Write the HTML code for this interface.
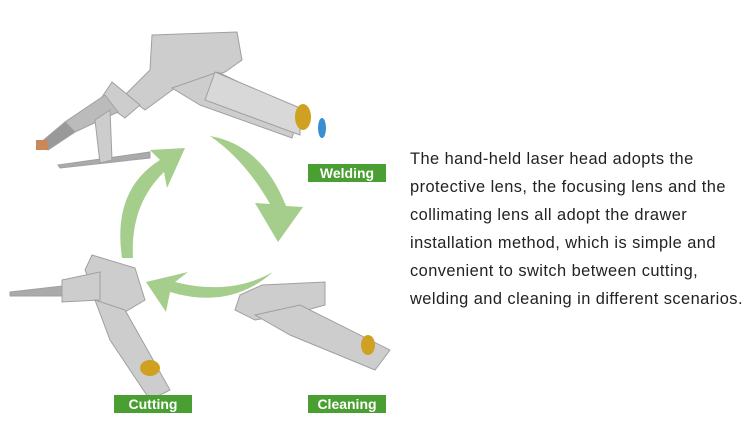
<!DOCTYPE html>
<html><head><style>
body{margin:0;width:750px;height:440px;background:#fff;position:relative;overflow:hidden;font-family:"Liberation Sans",sans-serif}
.lab{position:absolute;background:#4a9f32;color:#fff;font-weight:bold;font-size:14px;text-align:center;line-height:18px;width:78px;height:18px}
.txt{position:absolute;left:410px;top:145px;font-size:16.4px;letter-spacing:0.45px;line-height:28px;color:#222;white-space:nowrap}
</style></head><body>
<svg width="750" height="440" style="position:absolute;left:0;top:0">
<g fill="#a5cd8b">
<path d="M210,136 Q262,145 286,206 L303,207 L278,242 L255,203 L270,204 Q245,160 210,136Z"/>
<path d="M122,258 Q112,190 160,160 L150,150 L185,148 L167,188 L164,172 Q130,205 133,258Z"/>
<path d="M273,272 Q230,310 170,292 L166,312 L146,282 L188,272 L175,282 Q230,296 273,272Z"/>
</g>
<g fill="#cdcdcd" stroke="#a0a0a0" stroke-width="1">
<path d="M152,35 L237,32 L242,60 L225,72 L175,88 L145,110 L125,95 L150,70Z"/>
<path d="M172,88 L218,72 L300,112 L292,138 L200,105Z"/>
<path d="M215,72 L300,108 L300,135 L205,100Z" fill="#d8d8d8"/>
<path d="M112,82 L140,105 L125,118 L100,100Z"/>
<path d="M105,95 L118,112 L75,132 L65,122Z" fill="#bbb"/>
<path d="M65,122 L75,132 L48,150 L40,143Z" fill="#999"/>
<path d="M58,165 L150,152 L150,158 L60,168Z" fill="#aaa"/>
<path d="M95,120 L110,110 L112,160 L100,163Z"/>
<path d="M92,255 L135,268 L145,300 L120,315 L100,305 L85,270Z"/>
<path d="M62,280 L100,272 L100,300 L62,302Z"/>
<path d="M95,300 L125,310 L170,390 L150,400 L110,340Z"/>
<path d="M10,292 L62,286 L62,296 L10,296Z" fill="#aaa"/>
<path d="M262,285 L325,282 L325,305 L300,312 L255,320 L235,310 L240,295Z"/>
<path d="M255,315 L300,305 L390,350 L375,370 L290,335Z"/>
</g>
<g fill="#d0a020">
<ellipse cx="303" cy="117" rx="8" ry="13"/>
<ellipse cx="150" cy="368" rx="10" ry="8"/>
<ellipse cx="368" cy="345" rx="7" ry="10"/>
</g>
<g fill="#3a8fd0"><ellipse cx="322" cy="128" rx="4" ry="10"/></g>
<rect x="36" y="140" width="12" height="10" fill="#c8885a"/>
</svg>
<div class="lab" style="left:308px;top:164px">Welding</div>
<div class="lab" style="left:114px;top:395px">Cutting</div>
<div class="lab" style="left:308px;top:395px">Cleaning</div>
<div class="txt">The hand-held laser head adopts the<br>protective lens, the focusing lens and the<br>collimating lens all adopt the drawer<br>installation method, which is simple and<br>convenient to switch between cutting,<br>welding and cleaning in different scenarios.</div>
</body></html>
